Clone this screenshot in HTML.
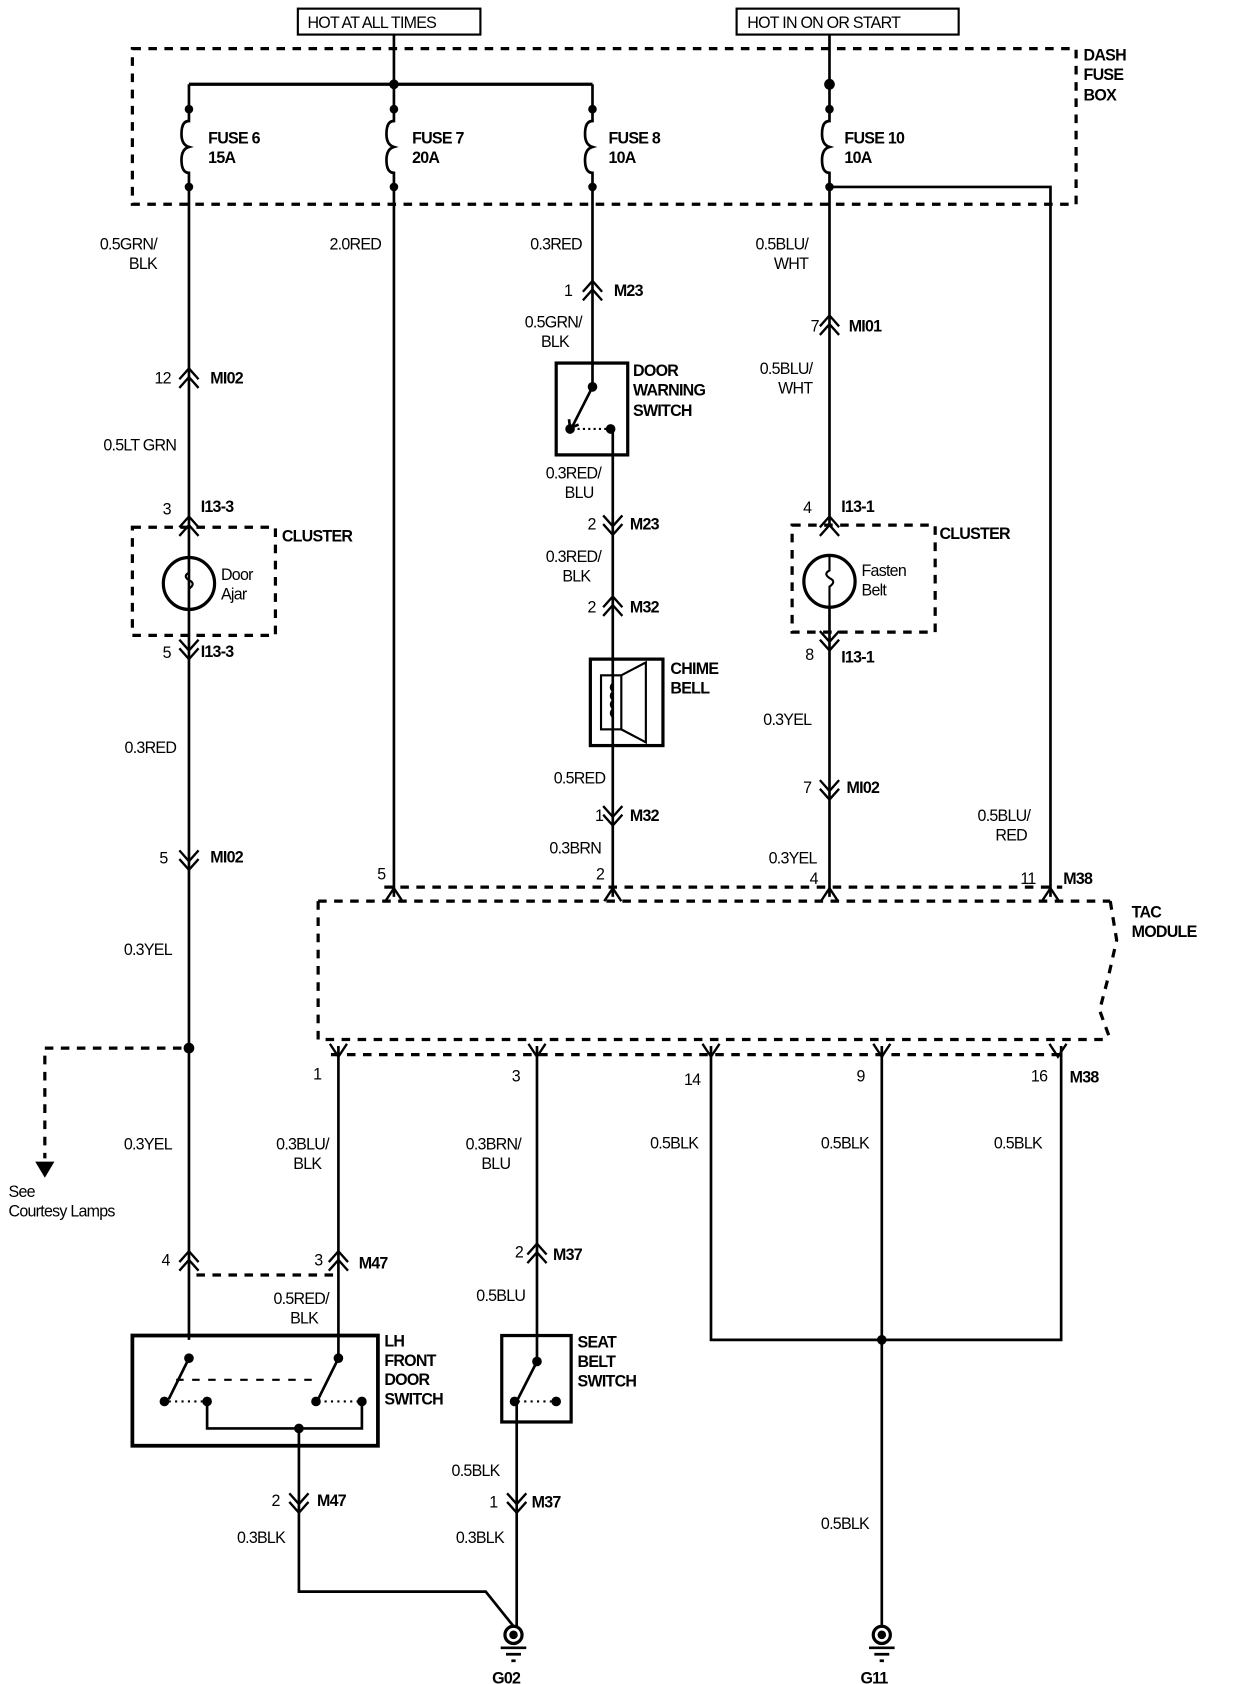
<!DOCTYPE html>
<html><head><meta charset="utf-8"><style>
html,body{margin:0;padding:0;background:#fff}
svg{display:block}
text{font-family:"Liberation Sans",sans-serif;font-size:15px;fill:#000;letter-spacing:-0.7px}
.b{font-weight:bold}
</style></head><body>
<svg width="1248" height="1684" viewBox="0 0 1155 1558.5" preserveAspectRatio="none" xmlns="http://www.w3.org/2000/svg">
<g transform="scale(0.988,1)">
<g stroke="#000" fill="none" stroke-width="2.5">
<rect x="279" y="8" width="171" height="24" stroke-width="2"/>
<rect x="690" y="8" width="208" height="24" stroke-width="2"/>
<rect x="124" y="45" width="884" height="144" stroke-dasharray="8,7" stroke-width="3"/>
<line x1="369" y1="32" x2="369" y2="78"/>
<line x1="177" y1="78" x2="555" y2="78" stroke-width="3"/>
<line x1="777" y1="32" x2="777" y2="101"/>
<path d="M177 78 V101 M177 101 V112 q-7 0 -7 12 q0 10 7 12 q-7 2 -7 12 q0 12 7 12 V1240"/>
<path d="M369 78 V101 M369 101 V112 q-7 0 -7 12 q0 10 7 12 q-7 2 -7 12 q0 12 7 12 V830"/>
<path d="M555 78 V101 M555 101 V112 q-7 0 -7 12 q0 10 7 12 q-7 2 -7 12 q0 12 7 12 V358"/>
<path d="M777 101 V112 q-7 0 -7 12 q0 10 7 12 q-7 2 -7 12 q0 12 7 12 V485"/>
<path d="M777 173 H984 V830"/>
<path d="M574 397 V830"/>
<rect x="521" y="336" width="67" height="85" stroke-width="3"/>
<line x1="555" y1="358" x2="536" y2="395"/>
<path d="M533 388 l1 8 l8 -3"/>
<path d="M536 397 H572" stroke-dasharray="2,3" stroke-width="2"/>
<rect x="553" y="610" width="68" height="80" stroke-width="3"/>
<rect x="563" y="625" width="19" height="50" stroke-width="2"/>
<path d="M582 625 L605 613 V687 L582 675" stroke-width="2"/>
<path d="M574 632 q-4 4 0 8 q-4 4 0 8 q-4 4 0 8 q-4 4 0 8" stroke-width="1.5"/>
<rect x="124" y="488" width="134" height="100" stroke-dasharray="8,7" stroke-width="3"/>
<rect x="742" y="486" width="134" height="99" stroke-dasharray="8,7" stroke-width="3"/>
<circle cx="177" cy="540" r="24" stroke-width="3"/>
<circle cx="777" cy="538" r="24" stroke-width="3"/>
<path d="M177 516 V530 q-6 3 0 7 q7 3 0 8 V564" stroke-width="2"/>
<path d="M777 514 V528 q-6 3 0 7 q7 3 0 8 V562" stroke-width="2"/>
<line x1="777" y1="562" x2="777" y2="830"/>
<path d="M298 834 H1040 M298 834 V962 H1040 M1040 834 L1046 870 L1038 905 L1030 935 L1040 962" stroke-dasharray="8,7" stroke-width="3"/>
<path d="M360 821 H995" stroke-dasharray="8,7" stroke-width="3"/>
<path d="M310 976 H1000" stroke-dasharray="8,7" stroke-width="3"/>
<path d="M170 970 H42 V1072" stroke-dasharray="8,7" stroke-width="3"/>
<line x1="317" y1="968" x2="317" y2="1258"/>
<line x1="503" y1="968" x2="503" y2="1257"/>
<path d="M666 968 V1240 H994 V968"/>
<line x1="826" y1="968" x2="826" y2="1505"/>
<path d="M184 1180 H312" stroke-dasharray="8,7" stroke-width="3"/>
<rect x="124" y="1236" width="230" height="102" stroke-width="3.5"/>
<line x1="177" y1="1257" x2="158" y2="1295"/>
<line x1="317" y1="1257" x2="298" y2="1295"/>
<path d="M165 1277 H300" stroke-dasharray="7,8" stroke-width="2"/>
<path d="M158 1297 H192 M298 1297 H338" stroke-dasharray="2,4" stroke-width="2"/>
<path d="M194 1297 V1322 H339 V1297" />
<path d="M280 1322 V1473 H455 L481 1505"/>
<rect x="470" y="1236" width="65" height="80" stroke-width="3"/>
<line x1="503" y1="1260" x2="485" y2="1295"/>
<path d="M485 1297 H521" stroke-dasharray="2,4" stroke-width="2"/>
<line x1="484" y1="1297" x2="484" y2="1505"/>
<g stroke-width="2.2">
<path d="M168 351 L177 341 L186 351 M168 359 L177 349 L186 359"/>
<path d="M168 488 L177 478 L186 488 M168 496 L177 486 L186 496"/>
<path d="M168 1168 L177 1158 L186 1168 M168 1176 L177 1166 L186 1176"/>
<path d="M308 1168 L317 1158 L326 1168 M308 1176 L317 1166 L326 1176"/>
<path d="M546 270 L555 260 L564 270 M546 278 L555 268 L564 278"/>
<path d="M565 562 L574 552 L583 562 M565 570 L574 560 L583 570"/>
<path d="M768 302 L777 292 L786 302 M768 310 L777 300 L786 310"/>
<path d="M768 488 L777 478 L786 488 M768 496 L777 486 L786 496"/>
<path d="M494 1161 L503 1151 L512 1161 M494 1169 L503 1159 L512 1169"/>
<path d="M168 592 L177 602 L186 592 M168 600 L177 610 L186 600"/>
<path d="M168 787 L177 797 L186 787 M168 795 L177 805 L186 795"/>
<path d="M565 477 L574 487 L583 477 M565 485 L574 495 L583 485"/>
<path d="M565 746 L574 756 L583 746 M565 754 L574 764 L583 754"/>
<path d="M768 584 L777 594 L786 584 M768 592 L777 602 L786 592"/>
<path d="M768 722 L777 732 L786 722 M768 730 L777 740 L786 730"/>
<path d="M271 1382 L280 1392 L289 1382 M271 1390 L280 1400 L289 1390"/>
<path d="M475 1382 L484 1392 L493 1382 M475 1390 L484 1400 L493 1390"/>
<path d="M361 834 L369 822 L377 834"/>
<path d="M566 834 L574 822 L582 834"/>
<path d="M769 834 L777 822 L785 834"/>
<path d="M976 834 L984 822 L992 834"/>
<path d="M309 966 L317 978 L325 966"/>
<path d="M495 966 L503 978 L511 966"/>
<path d="M658 966 L666 978 L674 966"/>
<path d="M818 966 L826 978 L834 966"/>
<path d="M983 966 L991 978 L999 966"/>
</g>
<circle cx="481" cy="1513" r="8" stroke-width="3"/>
<circle cx="826" cy="1513" r="8" stroke-width="3"/>
<path d="M469 1525 H493 M474 1531 H488 M479 1537 H483 M814 1525 H838 M819 1531 H833 M824 1537 H828" stroke-width="2.5"/>
</g>
<g fill="#000">
<circle cx="369" cy="78" r="4.5"/>
<circle cx="777" cy="78" r="5"/>
<circle cx="177" cy="101" r="4"/><circle cx="369" cy="101" r="4"/><circle cx="555" cy="101" r="4"/><circle cx="777" cy="101" r="4"/>
<circle cx="177" cy="173" r="4"/><circle cx="369" cy="173" r="4"/><circle cx="555" cy="173" r="4"/><circle cx="777" cy="173" r="4"/>
<circle cx="555" cy="358" r="4.5"/><circle cx="534" cy="397" r="4.5"/><circle cx="572" cy="397" r="4.5"/>
<circle cx="177" cy="970" r="5"/>
<circle cx="826" cy="1240" r="4.5"/>
<circle cx="177" cy="1257" r="4.5"/><circle cx="317" cy="1257" r="4.5"/>
<circle cx="154" cy="1297" r="4.5"/><circle cx="194" cy="1297" r="4.5"/>
<circle cx="296" cy="1297" r="4.5"/><circle cx="339" cy="1297" r="4.5"/>
<circle cx="280" cy="1322" r="4.5"/>
<circle cx="503" cy="1260" r="4.5"/><circle cx="482" cy="1297" r="4.5"/><circle cx="521" cy="1297" r="4.5"/>
<circle cx="481" cy="1513" r="4"/><circle cx="826" cy="1513" r="4"/>
<path d="M33 1075 H51 L42 1090 Z"/>
</g>
<text x="288" y="26">HOT AT ALL TIMES</text>
<text x="700" y="26">HOT IN ON OR START</text>
<g class="b">
<text x="1015" y="56">DASH</text><text x="1015" y="74">FUSE</text><text x="1015" y="93">BOX</text>
<text x="195" y="133">FUSE 6</text><text x="195" y="151">15A</text>
<text x="386" y="133">FUSE 7</text><text x="386" y="151">20A</text>
<text x="570" y="133">FUSE 8</text><text x="570" y="151">10A</text>
<text x="791" y="133">FUSE 10</text><text x="791" y="151">10A</text>
<text x="197" y="355">MI02</text>
<text x="188" y="474">I13-3</text>
<text x="188" y="608">I13-3</text>
<text x="197" y="798">MI02</text>
<text x="264" y="501">CLUSTER</text>
<text x="880" y="499">CLUSTER</text>
<text x="575" y="274">M23</text>
<text x="590" y="490">M23</text>
<text x="590" y="567">M32</text>
<text x="590" y="760">M32</text>
<text x="593" y="348">DOOR</text><text x="593" y="366">WARNING</text><text x="593" y="385">SWITCH</text>
<text x="628" y="624">CHIME</text><text x="628" y="642">BELL</text>
<text x="795" y="307">MI01</text>
<text x="788" y="474">I13-1</text>
<text x="788" y="613">I13-1</text>
<text x="793" y="734">MI02</text>
<text x="996" y="818">M38</text>
<text x="1060" y="849">TAC</text><text x="1060" y="867">MODULE</text>
<text x="1002" y="1002">M38</text>
<text x="336" y="1174">M47</text>
<text x="297" y="1394">M47</text>
<text x="518" y="1166">M37</text>
<text x="498" y="1395">M37</text>
<text x="360" y="1246">LH</text><text x="360" y="1264">FRONT</text><text x="360" y="1282">DOOR</text><text x="360" y="1300">SWITCH</text>
<text x="541" y="1247">SEAT</text><text x="541" y="1265">BELT</text><text x="541" y="1283">SWITCH</text>
<text x="461" y="1558">G02</text><text x="806" y="1558">G11</text>
</g>
<g text-anchor="end">
<text x="147" y="231">0.5GRN/</text><text x="147" y="249">BLK</text>
<text x="357" y="231">2.0RED</text>
<text x="545" y="231">0.3RED</text>
<text x="757" y="231">0.5BLU/</text><text x="757" y="249">WHT</text>
<text x="545" y="303">0.5GRN/</text><text x="533" y="321">BLK</text>
<text x="761" y="346">0.5BLU/</text><text x="761" y="364">WHT</text>
<text x="165" y="417">0.5LT GRN</text>
<text x="563" y="443">0.3RED/</text><text x="556" y="461">BLU</text>
<text x="563" y="520">0.3RED/</text><text x="553" y="538">BLK</text>
<text x="760" y="671">0.3YEL</text>
<text x="165" y="697">0.3RED</text>
<text x="567" y="725">0.5RED</text>
<text x="563" y="790">0.3BRN</text>
<text x="965" y="760">0.5BLU/</text><text x="962" y="778">RED</text>
<text x="765" y="799">0.3YEL</text>
<text x="161" y="884">0.3YEL</text>
<text x="161" y="1064">0.3YEL</text>
<text x="308" y="1064">0.3BLU/</text><text x="301" y="1082">BLK</text>
<text x="488" y="1064">0.3BRN/</text><text x="478" y="1082">BLU</text>
<text x="654" y="1063">0.5BLK</text>
<text x="814" y="1063">0.5BLK</text>
<text x="976" y="1063">0.5BLK</text>
<text x="308" y="1207">0.5RED/</text><text x="298" y="1225">BLK</text>
<text x="492" y="1204">0.5BLU</text>
<text x="468" y="1366">0.5BLK</text>
<text x="267" y="1428">0.3BLK</text>
<text x="472" y="1428">0.3BLK</text>
<text x="814" y="1415">0.5BLK</text>
<text x="160" y="355">12</text>
<text x="160" y="476">3</text>
<text x="160" y="609">5</text>
<text x="157" y="799">5</text>
<text x="536" y="274">1</text>
<text x="558" y="490">2</text>
<text x="558" y="567">2</text>
<text x="565" y="760">1</text>
<text x="767" y="307">7</text>
<text x="760" y="475">4</text>
<text x="762" y="611">8</text>
<text x="760" y="734">7</text>
<text x="361" y="814">5</text>
<text x="566" y="814">2</text>
<text x="766" y="818">4</text>
<text x="970" y="818">11</text>
<text x="301" y="999">1</text>
<text x="487" y="1001">3</text>
<text x="656" y="1004">14</text>
<text x="810" y="1001">9</text>
<text x="981" y="1001">16</text>
<text x="159" y="1171">4</text>
<text x="302" y="1171">3</text>
<text x="490" y="1164">2</text>
<text x="262" y="1394">2</text>
<text x="466" y="1395">1</text>
</g>
<text x="207" y="537">Door</text><text x="207" y="555">Ajar</text>
<text x="807" y="533">Fasten</text><text x="807" y="551">Belt</text>
<text x="8" y="1108">See</text><text x="8" y="1126">Courtesy Lamps</text>
</g>
</svg>
</body></html>
